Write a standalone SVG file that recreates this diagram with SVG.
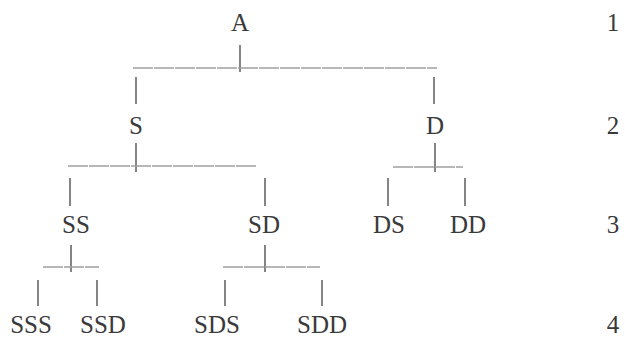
<svg xmlns="http://www.w3.org/2000/svg" width="625" height="341" viewBox="0 0 625 341">
  <style>
    text { font-family: 'Liberation Serif', Tinos, 'Times New Roman', Times, serif; font-size: 25px; fill: #3a3a3a; text-anchor: middle; }
    .bar { stroke: #a0a0a0; stroke-width: 1.6; fill: none; stroke-dasharray: 20 1; }
    .stub { stroke: #666; stroke-width: 1.6; fill: none; }
  </style>
  <rect width="625" height="341" fill="#fff"/>

  <!-- connectors -->
  <g id="connectors">
    <!-- A -> S, D -->
    <line class="stub" x1="240" y1="45" x2="240" y2="72"/>
    <line class="bar" x1="133" y1="68" x2="437" y2="68"/>
    <line class="stub" x1="136" y1="77" x2="136" y2="104"/>
    <line class="stub" x1="434" y1="77" x2="434" y2="104"/>
    <!-- S -> SS, SD -->
    <line class="stub" x1="136" y1="143" x2="136" y2="172"/>
    <line class="bar" x1="68" y1="166" x2="257" y2="166"/>
    <line class="stub" x1="70" y1="178" x2="70" y2="206"/>
    <line class="stub" x1="265" y1="178" x2="265" y2="206"/>
    <!-- D -> DS, DD -->
    <line class="stub" x1="435" y1="143" x2="435" y2="172"/>
    <line class="bar" x1="393" y1="167" x2="463" y2="167"/>
    <line class="stub" x1="388" y1="178" x2="388" y2="206"/>
    <line class="stub" x1="465" y1="178" x2="465" y2="206"/>
    <!-- SS -> SSS, SSD -->
    <line class="stub" x1="71" y1="245" x2="71" y2="272"/>
    <line class="bar" x1="43" y1="267" x2="99" y2="267"/>
    <line class="stub" x1="38" y1="280" x2="38" y2="306"/>
    <line class="stub" x1="97" y1="280" x2="97" y2="306"/>
    <!-- SD -> SDS, SDD -->
    <line class="stub" x1="265" y1="245" x2="265" y2="272"/>
    <line class="bar" x1="223" y1="267" x2="320" y2="267"/>
    <line class="stub" x1="225" y1="280" x2="225" y2="306"/>
    <line class="stub" x1="322" y1="280" x2="322" y2="306"/>
  </g>

  <!-- nodes -->
  <g id="node-A"><text x="240" y="31">A</text></g>
  <g id="node-S"><text x="136" y="134">S</text></g>
  <g id="node-D"><text x="435" y="134">D</text></g>
  <g id="node-SS"><text x="76" y="233">SS</text></g>
  <g id="node-SD"><text x="264" y="233">SD</text></g>
  <g id="node-DS"><text x="389" y="233">DS</text></g>
  <g id="node-DD"><text x="468" y="233">DD</text></g>
  <g id="node-SSS"><text x="31" y="333">SSS</text></g>
  <g id="node-SSD"><text x="103" y="333">SSD</text></g>
  <g id="node-SDS"><text x="217" y="333">SDS</text></g>
  <g id="node-SDD"><text x="322" y="333">SDD</text></g>

  <!-- level numbers -->
  <g id="levels">
    <text x="613" y="31">1</text>
    <text x="613" y="134">2</text>
    <text x="613" y="233">3</text>
    <text x="613" y="333">4</text>
  </g>
</svg>
